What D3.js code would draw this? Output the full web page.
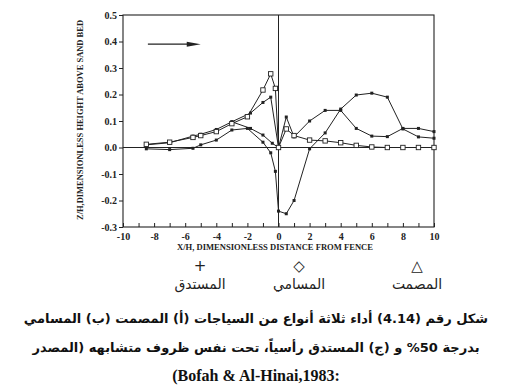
<!DOCTYPE html>
<html><head><meta charset="utf-8">
<script src="https://cdn.jsdelivr.net/npm/d3@7"></script>
<style>
body{margin:0;background:#fff;}
svg{display:block;}
</style></head>
<body>
<script>
// ---- data ----
const xTicks = [-10,-9,-8,-7,-6,-5,-4,-3,-2,-1,0,1,2,3,4,5,6,7,8,9,10];
const xTickLabels = ["-10","-8","-6","-4","-2","0","2","4","6","8","10"];
const yTicks = [0.5,0.4,0.3,0.2,0.1,0.0,-0.1,-0.2,-0.3];
const yTickLabels = ["0.5","0.4","0.3","0.2","0.1","0.0","-0.1","-0.2","-0.3"];

// square-marker series (large upstream peak)
const sqX = [-8.5,-7,-5.5,-5,-4,-3,-2,-1,-0.5,-0.2,0,0.5,1,2,3,4,5,6,7,8,9,10];
const sqY = [0.012,0.02,0.038,0.045,0.06,0.09,0.116,0.217,0.278,0.223,0.0,0.07,0.045,0.028,0.025,0.018,0.008,0.002,0.0,0.0,0.0,0.0];

// series with 0.19 upstream peak and downstream bump
const pkX = [-8.5,-7,-5.5,-5,-4,-3,-1.8,-1,-0.5,0,0.5,1,2,3,4,5,6,7,8,9,10];
const pkY = [0.01,0.018,0.043,0.05,0.068,0.097,0.13,0.17,0.19,0.0,0.115,0.04,0.10,0.14,0.14,0.072,0.043,0.041,0.072,0.072,0.06];

// branch near fence (upstream)
const brX = [-3,-1.8,-1,-0.4,0];
const brY = [0.097,0.072,0.047,0.016,0.0];

// series with scour hole behind fence
const dpX = [-8.5,-7,-5.5,-5,-4,-3,-2,-1,-0.5,-0.2,0,0.5,1,2,3,4,5,6,7,8,9,10];
const dpY = [-0.005,-0.008,-0.003,0.01,0.028,0.066,0.072,0.02,-0.02,-0.09,-0.24,-0.25,-0.2,-0.005,0.055,0.145,0.198,0.205,0.19,0.07,0.04,0.035];

const legendSymbols = ["+","\u25C7","\u25B3"];
const legendLabels = ["المستدق","المسامي","المصمت"];
const arrowX = [-8.4,-5.0];
const arrowY = 0.39;

const caption1 = "شكل رقم (4.14) أداء ثلاثة أنواع من السياجات (أ) المصمت (ب) المسامي";
const caption2 = "بدرجة 50% و (ج) المستدق رأسياً، تحت نفس ظروف متشابهه (المصدر";
const caption3 = "(Bofah & Al-Hinai,1983:";
const xTitle = "X/H, DIMENSIONLESS DISTANCE FROM FENCE";
const yTitle = "Z/H,DIMENSIONLESS HEIGHT ABOVE SAND BED";

// ---- drawing ----
const W = 513, H = 391;
const svg = d3.select("body").append("svg").attr("width",W).attr("height",H);
const x = d3.scaleLinear().domain([-10,10]).range([123,434]);
const y = d3.scaleLinear().domain([-0.3,0.5]).range([227,15]);
const ink = "#222";
const serif = "'Liberation Serif','Times New Roman',serif";

// frame
svg.append("rect").attr("x",x(-10)).attr("y",y(0.5)).attr("width",x(10)-x(-10)).attr("height",y(-0.3)-y(0.5))
  .attr("fill","none").attr("stroke",ink).attr("stroke-width",1.1);
// zero line and fence line
svg.append("line").attr("x1",x(-10)).attr("x2",x(10)).attr("y1",y(0)).attr("y2",y(0)).attr("stroke",ink).attr("stroke-width",1);
svg.append("line").attr("x1",x(0)).attr("x2",x(0)).attr("y1",y(0.5)).attr("y2",y(-0.3)).attr("stroke",ink).attr("stroke-width",1);

// axes
const yAxis = d3.axisLeft(y).tickValues(yTicks).tickSize(4).tickPadding(2)
  .tickFormat((d,i)=>yTickLabels[i]);
const gy = svg.append("g").attr("transform",`translate(${x(-10)},0)`).call(yAxis);
gy.select(".domain").remove();
gy.selectAll("line").attr("stroke",ink);
gy.selectAll("text").attr("font-family",serif).attr("font-weight","bold").attr("font-size",10).attr("fill",ink);

const xAxis = d3.axisBottom(x).tickValues(xTicks).tickSizeInner(-4).tickSizeOuter(0).tickPadding(6)
  .tickFormat(d => (d % 2 === 0) ? xTickLabels[(d+10)/2] : "");
const gx = svg.append("g").attr("transform",`translate(0,${y(-0.3)})`).call(xAxis);
gx.select(".domain").remove();
gx.selectAll("line").attr("stroke",ink);
gx.selectAll("text").attr("font-family",serif).attr("font-weight","bold").attr("font-size",10).attr("fill",ink);

// titles
svg.append("text").attr("x",275).attr("y",250).attr("text-anchor","middle")
  .attr("font-family",serif).attr("font-weight","bold").attr("font-size",7.5)
  .attr("textLength",196).attr("lengthAdjust","spacingAndGlyphs").attr("fill",ink).text(xTitle);
svg.append("text").attr("transform","translate(83,120) rotate(-90)").attr("text-anchor","middle")
  .attr("font-family",serif).attr("font-weight","bold").attr("font-size",7.5)
  .attr("textLength",200).attr("lengthAdjust","spacingAndGlyphs").attr("fill",ink).text(yTitle);

// lines
const line = d3.line().x(d=>x(d[0])).y(d=>y(d[1]));
function series(xs, ys, marker){
  const pts = xs.map((v,i)=>[v,ys[i]]);
  svg.append("path").datum(pts).attr("d",line).attr("fill","none").attr("stroke",ink).attr("stroke-width",1);
  if(marker==="sq"){
    svg.selectAll(null).data(pts).enter().append("rect")
      .attr("x",d=>x(d[0])-2.2).attr("y",d=>y(d[1])-2.2).attr("width",4.4).attr("height",4.4)
      .attr("fill","#fff").attr("stroke",ink).attr("stroke-width",0.9);
  } else {
    svg.selectAll(null).data(pts).enter().append("rect")
      .attr("x",d=>x(d[0])-1.5).attr("y",d=>y(d[1])-1.5).attr("width",3).attr("height",3)
      .attr("fill",ink);
  }
}
series(dpX,dpY,"dot");
series(pkX,pkY,"dot");
series(brX,brY,"dot");
series(sqX,sqY,"sq");

// arrow
svg.append("line").attr("x1",x(arrowX[0])).attr("x2",x(arrowX[1])-10).attr("y1",y(arrowY)).attr("y2",y(arrowY))
  .attr("stroke",ink).attr("stroke-width",1.3);
const ax = x(arrowX[1]), ay = y(arrowY);
svg.append("path").attr("d",`M${ax-14},${ay-2.5}L${ax},${ay}L${ax-14},${ay+2.5}Z`).attr("fill",ink);

// legend
const legX = [200,299,417];
legendSymbols.forEach((s,i)=>{
  svg.append("text").attr("x",legX[i]).attr("y",271).attr("text-anchor","middle")
    .attr("font-family","'DejaVu Sans',sans-serif").attr("font-size",15).attr("fill",ink).text(s);
  svg.append("text").attr("x",legX[i]).attr("y",289).attr("text-anchor","middle").attr("direction","rtl")
    .attr("font-family","'DejaVu Sans','Noto Sans',sans-serif").attr("font-size",14).attr("fill",ink).text(legendLabels[i]);
});

// caption
const capFont = "'DejaVu Sans','Noto Sans',sans-serif";
[[caption1,323,466],[caption2,352,420]].forEach(([t,yy,len])=>{
  svg.append("text").attr("x",256).attr("y",yy).attr("text-anchor","middle").attr("direction","rtl")
    .attr("font-family",capFont).attr("font-weight","bold").attr("font-size",13).attr("fill","#111").text(t);
});
svg.append("text").attr("x",256).attr("y",381).attr("text-anchor","middle")
  .attr("font-family",serif).attr("font-weight","bold").attr("font-size",16).attr("fill","#111").text(caption3);
</script>
</body></html>
